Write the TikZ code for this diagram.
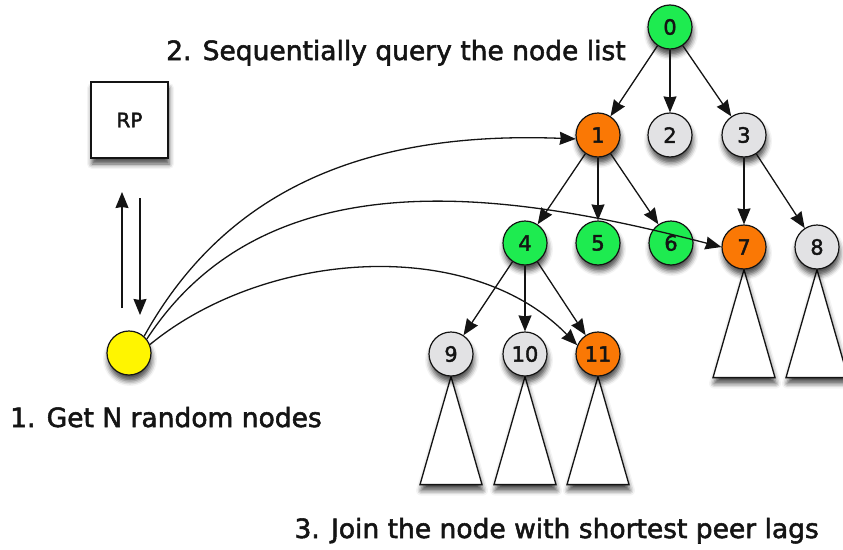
\documentclass[tikz,border=0pt]{standalone}
\usepackage{fontspec}
\setmainfont{DejaVu Sans}
\newfontfamily\heavysans[FakeBold=2]{DejaVu Sans}
\usetikzlibrary{arrows.meta,shadows.blur}

\definecolor{nodegreen}{RGB}{30,235,80}
\definecolor{nodeorange}{RGB}{250,120,5}
\definecolor{nodegray}{RGB}{226,226,228}
\definecolor{nodeyellow}{RGB}{255,245,0}
\definecolor{inkc}{RGB}{20,20,20}

\pgfdeclarelayer{back}
\pgfsetlayers{back,main}

\tikzset{
  soft/.style={blur shadow={shadow xshift=1pt, shadow yshift=-6pt,
      shadow blur radius=5pt, shadow opacity=70}},
  peer/.style={circle, draw=inkc, line width=1.2pt, minimum size=44pt,
      inner sep=0pt, text=inkc, font=\heavysans\fontsize{21}{21}\selectfont, soft},
  green/.style={peer, fill=nodegreen},
  orange/.style={peer, fill=nodeorange},
  gray/.style={peer, fill=nodegray},
  link/.style={-{Stealth[length=16pt,width=13pt,inset=1pt]},
      line width=1.3pt, draw=inkc},
  subtree/.style={draw=inkc, line width=1.3pt, fill=white, line join=miter, soft},
  lbl/.style={inner sep=0pt, text=inkc, font=\heavysans\fontsize{26.5}{30}\selectfont},
}

\begin{document}
\begin{tikzpicture}[x=1pt, y=-1pt]
  \useasboundingbox (0,0) rectangle (843,549);
  \clip (0,0) rectangle (843,549);

  % rendezvous point and the newcomer
  \node[draw=inkc, line width=1.2pt, fill=white, minimum width=77pt,
        minimum height=76pt, inner sep=0pt, text=inkc,
        font=\heavysans\fontsize{20}{20}\selectfont, soft] (rp) at (129.5,120) {RP};
  \node[peer, fill=nodeyellow] (yel) at (129,353) {};

  % overlay tree
  \node[green]  (n0)  at (670,27)  {0};
  \node[orange] (n1)  at (598,135) {1};
  \node[gray]   (n2)  at (670,135) {2};
  \node[gray]   (n3)  at (744,135) {3};
  \node[green]  (n4)  at (525,243) {4};
  \node[green]  (n5)  at (598,243) {5};
  \node[green]  (n6)  at (671,243) {6};
  \node[orange] (n7)  at (744,247) {7};
  \node[gray]   (n8)  at (817,247) {8};
  \node[gray]   (n9)  at (451,354) {9};
  \node[gray]   (n10) at (525,354) {10};
  \node[orange] (n11) at (598,354) {11};

  % subtrees hanging below the leaves
  \begin{pgfonlayer}{back}
    \foreach \leaf in {n9,n10,n11,n7,n8}
      \draw[subtree] (\leaf.south) -- ++(-31,108) -- ++(62,0) -- cycle;
  \end{pgfonlayer}

  % parent-child links
  \foreach \a/\b in {n0/n1,n0/n2,n0/n3,n1/n4,n1/n5,n1/n6,n3/n7,n3/n8,n4/n9,n4/n10,n4/n11}
    \draw[link] (\a) -- (\b);

  % exchange with the rendezvous point
  \coordinate (upFrom) at (122,308);
  \coordinate (upTo)   at (122,192);
  \coordinate (dnFrom) at (140,198);
  \coordinate (dnTo)   at (140,315);
  \draw[link] (upFrom) -- (upTo);
  \draw[link] (dnFrom) -- (dnTo);

  % probes from the newcomer to the candidate parents
  \draw[link] (yel.48) .. controls (220,200) and (350,130) .. (n1.190);
  \draw[link] (yel.38) .. controls (270,150) and (520,195) .. (n7.west);
  \draw[link] (yel.22) .. controls (265,250) and (470,235) .. (n11.157);

  % step captions
  \node[lbl, anchor=base west] (cap2) at (166,60)  {2. Sequentially query the node list};
  \node[lbl, anchor=base west] (cap1) at (10,427)  {1. Get N random nodes};
  \node[lbl, anchor=base east] (cap3) at (819,538) {3. Join the node with shortest peer lags};
\end{tikzpicture}
\end{document}
